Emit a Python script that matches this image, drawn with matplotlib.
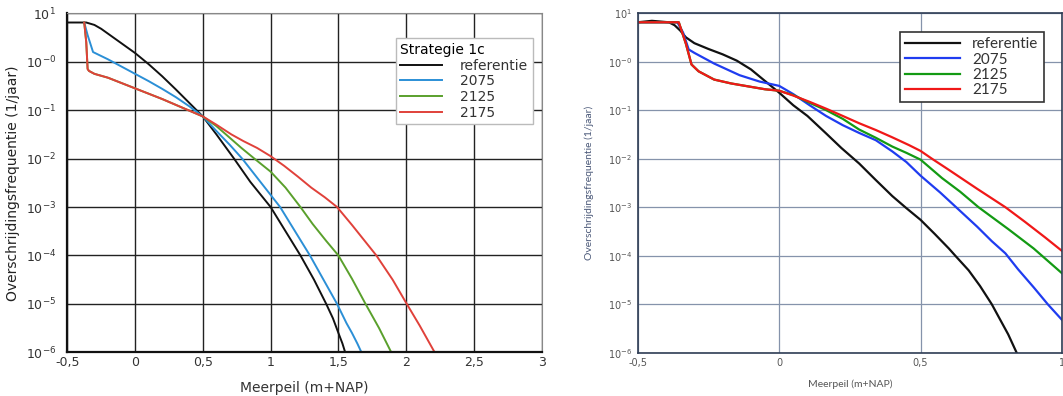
import numpy as np
import matplotlib.pyplot as plt
from matplotlib.ticker import FixedLocator, FixedFormatter

# ---- data, left panel (Strategie 1c): x = meerpeil (m+NAP), y = log10 frequentie (1/jaar)
L_ref_x = [-0.5, -0.36, -0.3, -0.25, -0.2, -0.1, 0.0, 0.1, 0.2, 0.3, 0.4, 0.5, 0.6, 0.73, 0.85, 1.0,
           1.11, 1.22, 1.32, 1.41, 1.46, 1.5, 1.53, 1.55]
L_ref_y = [0.81, 0.81, 0.76, 0.68, 0.58, 0.38, 0.18, -0.05, -0.30, -0.57, -0.85, -1.13, -1.50, -2.0, -2.48, -3.0,
           -3.5, -4.0, -4.5, -5.0, -5.3, -5.6, -5.82, -6.0]
L_2075_x = [-0.375, -0.35, -0.31, -0.2, -0.1, 0.0, 0.1, 0.2, 0.3, 0.4, 0.5, 0.6, 0.7, 0.79, 0.93, 1.07,
            1.18, 1.29, 1.39, 1.49, 1.56, 1.6, 1.64, 1.67]
L_2075_y = [0.81, 0.55, 0.20, 0.05, -0.10, -0.25, -0.40, -0.56, -0.73, -0.92, -1.13, -1.43, -1.72, -2.0, -2.5, -3.0,
            -3.5, -4.0, -4.5, -5.0, -5.4, -5.6, -5.82, -6.0]
L_2125_x = [-0.375, -0.36, -0.35, -0.34, -0.3, -0.2, -0.1, 0.0, 0.1, 0.2, 0.3, 0.4, 0.5, 0.6, 0.67, 0.78,
            0.88, 1.0, 1.11, 1.22, 1.31, 1.41, 1.5, 1.6, 1.7, 1.8, 1.89]
L_2125_y = [0.81, 0.40, -0.15, -0.19, -0.25, -0.33, -0.44, -0.55, -0.66, -0.77, -0.89, -1.01, -1.13, -1.33, -1.5, -1.77,
            -2.0, -2.27, -2.6, -3.0, -3.35, -3.7, -4.0, -4.48, -5.0, -5.5, -6.0]
L_2175_x = [-0.375, -0.36, -0.35, -0.34, -0.3, -0.2, -0.1, 0.0, 0.1, 0.2, 0.3, 0.4, 0.5, 0.6, 0.71, 0.8,
            0.9, 1.0, 1.1, 1.2, 1.3, 1.4, 1.49, 1.6, 1.7, 1.78, 1.9, 2.0, 2.1, 2.21]
L_2175_y = [0.81, 0.40, -0.15, -0.19, -0.25, -0.33, -0.44, -0.55, -0.66, -0.77, -0.89, -1.01, -1.13, -1.30, -1.5, -1.64,
            -1.78, -1.95, -2.15, -2.37, -2.6, -2.8, -3.0, -3.37, -3.72, -4.0, -4.5, -4.98, -5.45, -6.0]

# ---- data, right panel
R_ref_x = [-0.5, -0.45, -0.39, -0.37, -0.35, -0.33, -0.3, -0.25, -0.2, -0.15, -0.1, -0.05, 0.0, 0.05, 0.1, 0.166,
           0.22, 0.283, 0.34, 0.4, 0.45, 0.5, 0.55, 0.6, 0.623, 0.67, 0.71, 0.752, 0.78, 0.81, 0.84]
R_ref_y = [0.81, 0.84, 0.81, 0.75, 0.64, 0.50, 0.38, 0.26, 0.15, 0.02, -0.16, -0.40, -0.64, -0.90, -1.12, -1.48,
           -1.78, -2.10, -2.43, -2.77, -3.02, -3.26, -3.55, -3.85, -4.0, -4.3, -4.62, -5.0, -5.3, -5.62, -6.0]
R_2075_x = [-0.5, -0.36, -0.34, -0.32, -0.3, -0.23, -0.14, -0.07, 0.0, 0.05, 0.108, 0.166, 0.225, 0.283, 0.342,
            0.4, 0.45, 0.5, 0.57, 0.635, 0.7, 0.752, 0.8, 0.845, 0.9, 0.95, 1.0]
R_2075_y = [0.81, 0.81, 0.60, 0.25, 0.18, -0.04, -0.28, -0.41, -0.50, -0.67, -0.90, -1.12, -1.31, -1.47, -1.62,
            -1.85, -2.07, -2.35, -2.7, -3.05, -3.4, -3.7, -3.95, -4.28, -4.65, -5.0, -5.32]
R_2125_x = [-0.5, -0.355, -0.33, -0.31, -0.285, -0.23, -0.17, -0.11, -0.05, 0.0, 0.05, 0.108, 0.166, 0.225, 0.283,
            0.342, 0.4, 0.45, 0.5, 0.576, 0.64, 0.705, 0.81, 0.9, 1.0]
R_2125_y = [0.81, 0.81, 0.37, -0.06, -0.20, -0.37, -0.45, -0.51, -0.57, -0.60, -0.69, -0.85, -1.0, -1.18, -1.40,
            -1.57, -1.75, -1.88, -2.02, -2.4, -2.68, -3.0, -3.45, -3.85, -4.36]
R_2175_x = [-0.5, -0.355, -0.33, -0.31, -0.285, -0.23, -0.17, -0.11, -0.05, 0.0, 0.05, 0.108, 0.166, 0.225, 0.283,
            0.342, 0.4, 0.459, 0.5, 0.54, 0.6, 0.7, 0.8, 0.869, 0.94, 1.0]
R_2175_y = [0.81, 0.81, 0.37, -0.06, -0.20, -0.37, -0.45, -0.51, -0.57, -0.60, -0.70, -0.83, -0.97, -1.12, -1.27,
            -1.41, -1.56, -1.72, -1.84, -2.0, -2.23, -2.62, -3.0, -3.3, -3.62, -3.9]

labels = ['referentie', '2075', '2125', '2175']
L_colors = ['#111111', '#2b8fd6', '#5aa02c', '#e0413a']
R_colors = ['#111111', '#1f3cf0', '#139a13', '#f01818']

y_ticks = [10.0 ** e for e in range(-6, 2)]
y_labels = [r'$10^{-6}$', r'$10^{-5}$', r'$10^{-4}$', r'$10^{-3}$', r'$10^{-2}$', r'$10^{-1}$', r'$10^{-0}$', r'$10^{1}$']

fig = plt.figure(figsize=(10.63, 3.96), dpi=100)

# ---------------- left panel
ax1 = fig.add_axes([0.0633, 0.1104, 0.4463, 0.856])
series_L = [(L_ref_x, L_ref_y), (L_2075_x, L_2075_y), (L_2125_x, L_2125_y), (L_2175_x, L_2175_y)]
for (x, y), c, lab in zip(series_L, L_colors, labels):
    ax1.plot(x, 10 ** np.array(y), color=c, lw=1.4, label=lab)
ax1.set_yscale('log')
ax1.set_xlim(-0.5, 3)
ax1.set_ylim(1e-6, 1e1)
ax1.xaxis.set_major_locator(FixedLocator([-0.5, 0, 0.5, 1, 1.5, 2, 2.5, 3]))
ax1.xaxis.set_major_formatter(FixedFormatter(['-0,5', '0', '0,5', '1', '1,5', '2', '2,5', '3']))
ax1.yaxis.set_major_locator(FixedLocator(y_ticks))
ax1.yaxis.set_major_formatter(FixedFormatter(y_labels))
ax1.yaxis.set_minor_locator(FixedLocator([]))
ax1.grid(True, color='#222222', lw=1.0)
ax1.set_axisbelow(True)
ax1.tick_params(axis='x', length=0, labelsize=9, colors='#333333', pad=3)
ax1.tick_params(axis='y', length=0, labelsize=9, colors='#333333', pad=8)
for s in ['top', 'right']:
    ax1.spines[s].set_color('#888888')
for s in ['bottom', 'left']:
    ax1.spines[s].set_color('#111111')
    ax1.spines[s].set_linewidth(1.6)
ax1.set_xlabel('Meerpeil (m+NAP)', fontsize=10, color='#333333', labelpad=8)
ax1.set_ylabel('Overschrijdingsfrequentie (1/jaar)', fontsize=10, color='#222222', labelpad=4)
leg1 = ax1.legend(title='Strategie 1c', loc='upper right', bbox_to_anchor=(0.982, 0.927),
                  borderaxespad=0, fontsize=10, title_fontsize=10, handlelength=3.0, handletextpad=1.3,
                  fancybox=False, edgecolor='#bbbbbb', framealpha=1,
                  borderpad=0.35, labelspacing=0.12)
leg1._legend_box.align = 'left'
for t in leg1.get_texts():
    t.set_color('#333333')

# ---------------- right panel
ax2 = fig.add_axes([0.600, 0.109, 0.399, 0.858])
series_R = [(R_ref_x, R_ref_y), (R_2075_x, R_2075_y), (R_2125_x, R_2125_y), (R_2175_x, R_2175_y)]
for (x, y), c, lab in zip(series_R, R_colors, labels):
    ax2.plot(x, 10 ** np.array(y), color=c, lw=1.6, label=lab)
ax2.set_yscale('log')
ax2.set_xlim(-0.5, 1)
ax2.set_ylim(1e-6, 1e1)
ax2.xaxis.set_major_locator(FixedLocator([-0.5, 0, 0.5, 1]))
ax2.xaxis.set_major_formatter(FixedFormatter(['-0,5', '0', '0,5', '1']))
ax2.yaxis.set_major_locator(FixedLocator(y_ticks))
ax2.yaxis.set_major_formatter(FixedFormatter(y_labels))
ax2.yaxis.set_minor_locator(FixedLocator([]))
ax2.grid(True, color='#8593ab', lw=0.9)
ax2.set_axisbelow(True)
ax2.tick_params(length=0, labelsize=7, colors='#555555', pad=4)
for s in ax2.spines.values():
    s.set_color('#2f3d55')
    s.set_linewidth(1.2)
ax2.set_xlabel('Meerpeil (m+NAP)', fontsize=7.5, color='#555555', family='Lato', labelpad=8)
ax2.set_ylabel('Overschrijdingsfrequentie (1/jaar)', fontsize=7.5, color='#4a5878', family='Lato', labelpad=10)
leg2 = ax2.legend(loc='upper right', bbox_to_anchor=(0.957, 0.944), borderaxespad=0,
                  prop={'family': 'Lato', 'size': 11}, handlelength=3.6, handletextpad=0.8,
                  fancybox=False, edgecolor='#333333', framealpha=1,
                  borderpad=0.35, labelspacing=0.08)
leg2.get_frame().set_linewidth(1.2)
for t in leg2.get_texts():
    t.set_color('#333333')

fig.savefig('out.png', dpi=100)
